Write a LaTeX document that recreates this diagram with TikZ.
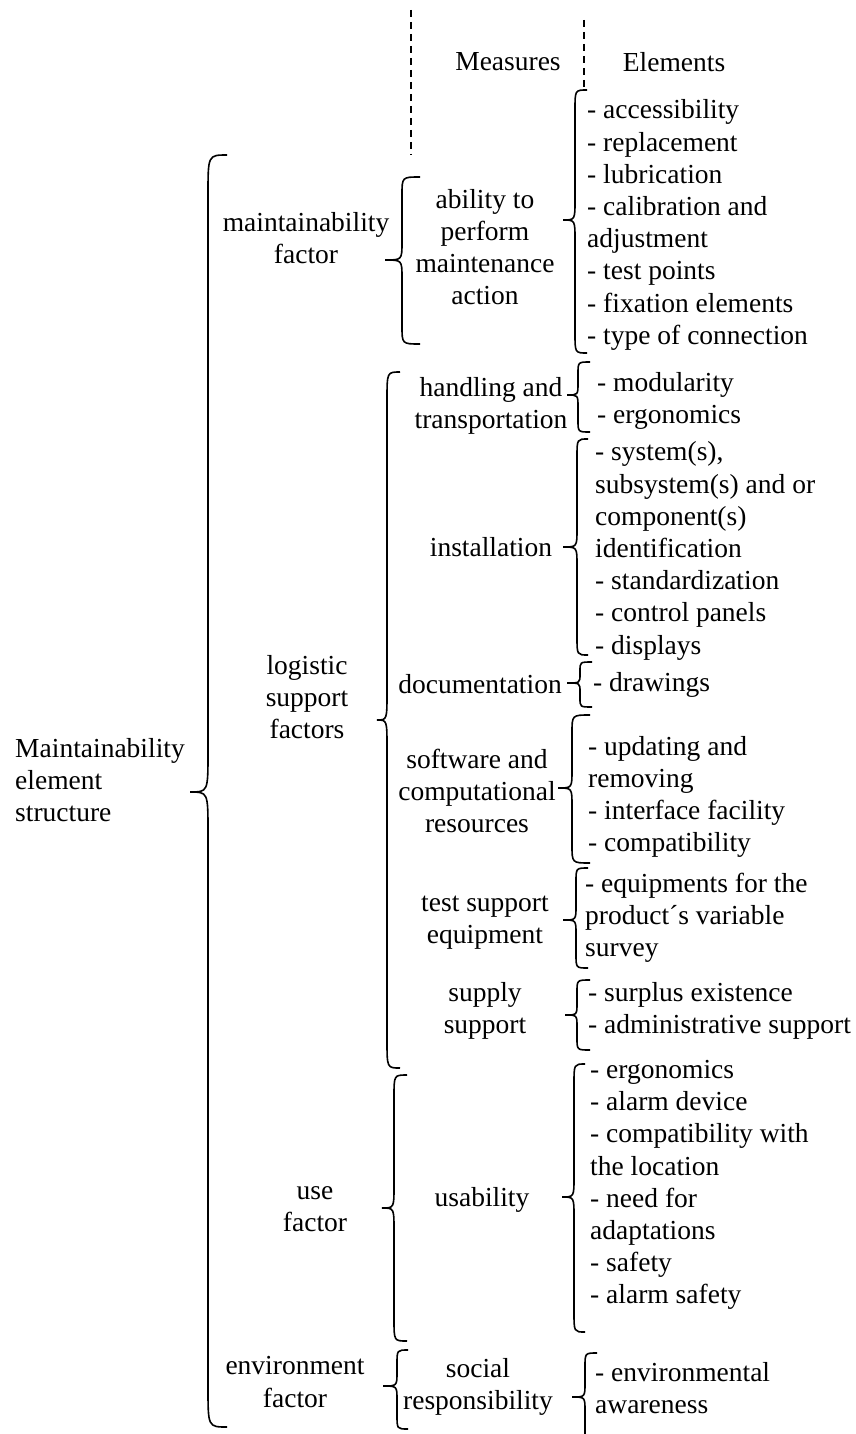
\documentclass[tikz,border=0pt]{standalone}
\usepackage{fontspec}
\setmainfont{Liberation Serif}
\usepackage{tikz}

% curly brace: tip x, spine x, end x, top y, tip y, bottom y, curl
\newcommand{\wbrace}[7]{%
  \draw[braceline] (#3,#4) .. controls (#2,#4) .. (#2,#4+#7) -- (#2,#5-#7)
    .. controls (#2,#5) .. (#1,#5) .. controls (#2,#5) .. (#2,#5+#7)
    -- (#2,#6-#7) .. controls (#2,#6) .. (#3,#6);}

\begin{document}
\begin{tikzpicture}[x=1pt,y=-1pt,
  every node/.style={inner sep=0pt,font=\fontsize{27.5}{32.2}\selectfont},
  midtext/.style={align=center},
  itemlist/.style={align=left,anchor=west},
  braceline/.style={line width=1.6pt},
  guide/.style={dashed,dash pattern=on 7pt off 5pt,line width=1.5pt}]
\useasboundingbox (0,0) rectangle (856,1434);
\clip (0,0) rectangle (856,1434);
% Column headings
\coordinate (g1top) at (411,10);
\coordinate (g1bot) at (411,155);
\coordinate (g2top) at (584,20);
\coordinate (g2bot) at (584,88);
\draw[guide] (g1top) -- (g1bot);
\draw[guide] (g2top) -- (g2bot);
\node (meas) at (508,62) {Measures};
\node (elem) at (674,62) {Elements};
% Root
\node[itemlist] (root) at (15,780) {Maintainability\\element\\structure};
\wbrace{190}{208}{227}{155}{792}{1427}{40}
% Factors
\node[midtext] (mfac) at (306,238) {maintainability\\factor};
\node[midtext] (lfac) at (307,697) {logistic\\support\\factors};
\node[midtext] (ufac) at (315,1209) {use\\factor};
\node[midtext] (efac) at (295,1382) {environment\\factor};
\wbrace{385}{402}{420}{177}{260}{344}{18}
\wbrace{377}{387}{400}{372}{720}{1068}{28}
\wbrace{382}{394}{407}{1075}{1208}{1341}{22}
\wbrace{383}{397}{408}{1350}{1386}{1429}{14}
% Measures
\node[midtext] (mabil) at (485,247) {ability to\\perform\\maintenance\\action};
\node[midtext] (mhand) at (491,406) {handling and\\transportation};
\node[midtext] (minst) at (491,547) {installation};
\node[midtext] (mdoc) at (480,684) {documentation};
\node[midtext] (msoft) at (477,791) {software and\\computational\\resources};
\node[midtext] (mtest) at (485,923) {test support\\equipment};
\node[midtext] (msup) at (485,1011) {supply\\support};
\node[midtext] (musab) at (482,1200) {usability};
\node[midtext] (msoc) at (478,1387) {social\\responsibility};
\wbrace{563}{575}{587}{90}{220}{353}{20}
\wbrace{567}{578}{590}{362}{395}{432}{12}
\wbrace{563}{577}{588}{439}{547}{655}{18}
\wbrace{567}{580}{592}{662}{683}{707}{9}
\wbrace{558}{572}{590}{715}{788}{863}{18}
\wbrace{563}{576}{588}{868}{920}{968}{14}
\wbrace{565}{577}{590}{980}{1015}{1050}{12}
\wbrace{562}{574}{585}{1064}{1197}{1332}{20}
\wbrace{572}{585}{597}{1353}{1397}{1480}{14}
% Elements
\node[itemlist] (eabil) at (587,225) {- accessibility\\- replacement\\- lubrication\\- calibration and\\adjustment\\- test points\\- fixation elements\\- type of connection};
\node[itemlist] (ehand) at (597,401) {- modularity\\- ergonomics};
\node[itemlist] (einst) at (595,551) {- system(s),\\subsystem(s) and or\\component(s)\\identification\\- standardization\\- control panels\\- displays};
\node[itemlist] (edoc) at (593,685) {- drawings};
\node[itemlist] (esoft) at (588,797) {- updating and\\removing\\- interface facility\\- compatibility};
\node[itemlist] (etest) at (585,918) {- equipments for the\\product´s variable\\survey};
\node[itemlist] (esup) at (588,1011) {- surplus existence\\- administrative support};
\node[itemlist] (eusab) at (590,1185) {- ergonomics\\- alarm device\\- compatibility with\\the location\\- need for\\adaptations\\- safety\\- alarm safety};
\node[itemlist] (eenv) at (595,1388) {- environmental\\awareness};
\end{tikzpicture}
\end{document}
